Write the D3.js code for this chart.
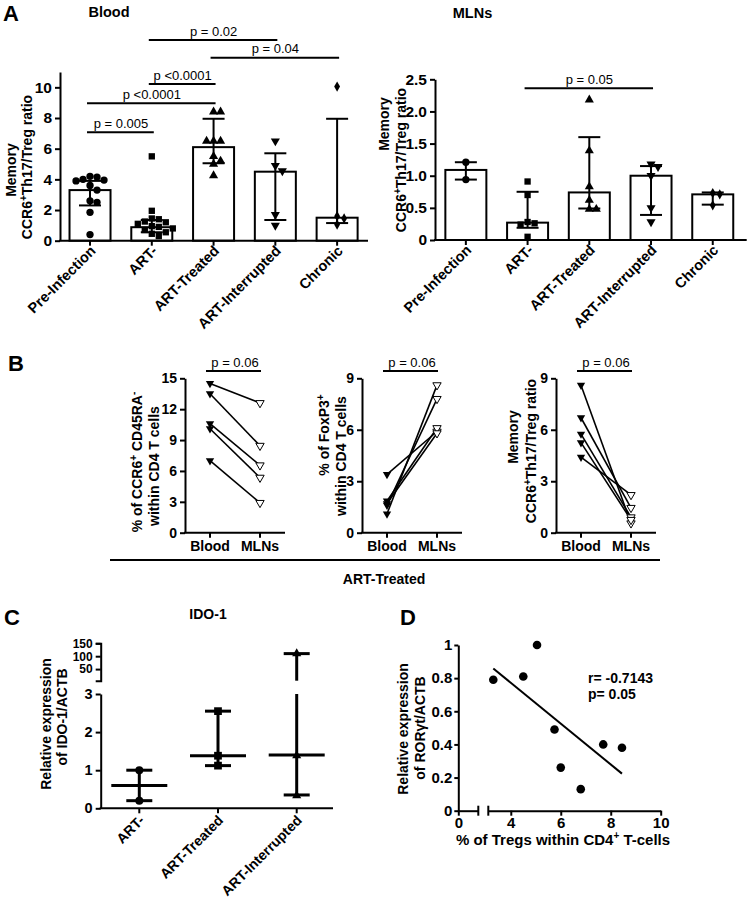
<!DOCTYPE html>
<html><head><meta charset="utf-8">
<script src="https://cdn.jsdelivr.net/npm/d3@7"></script>
<style>
body{margin:0;background:#fff}
svg{display:block}
text{font-family:"Liberation Sans",Arial,Helvetica,sans-serif;fill:#000}
</style>
</head><body>
<svg id="fig" width="750" height="897"></svg>
<script>
// ================= DATA =================
// Panel A
const groupsA = ["Pre-Infection", "ART-", "ART-Treated", "ART-Interrupted", "Chronic"];
const bloodTicks = [0, 2, 4, 6, 8, 10];
const bloodBar  = [3.3, 0.88, 6.1, 4.5, 1.5];
const bloodLow  = [2.3, 0.55, 5.05, 1.35, 1.15];
const bloodHigh = [3.9, 1.35, 7.95, 5.7, 7.95];
const bloodPre = [4.2, 4.15, 4.0, 3.95, 3.9, 3.6, 3.3, 2.6, 2.5, 1.85, 0.4];
const bloodARTneg = [5.5, 1.95, 1.45, 1.4, 1.25, 1.2, 1.1, 0.95, 0.9, 0.8, 0.7, 0.55, 0.45, 0.3];
const bloodTreated = [8.4, 8.4, 6.5, 6.5, 6.5, 5.5, 5.2, 5.0, 4.25];
const bloodInterrupted = [6.5, 4.9, 4.55, 1.7, 1.0];
const bloodChronic = [10.05, 1.6, 1.45, 1.05];
const bloodSigPairs = [[0, 1], [0, 2], [1, 2], [1, 3], [2, 4]];
const bloodSigLabels = ["p = 0.005", "p <0.0001", "p <0.0001", "p = 0.02", "p = 0.04"];

const mlnTicks = [0, 0.5, 1.0, 1.5, 2.0, 2.5];
const mlnBar  = [1.09, 0.27, 0.74, 1.0, 0.71];
const mlnLow  = [0.94, 0.19, 0.49, 0.39, 0.55];
const mlnHigh = [1.21, 0.75, 1.6, 1.15, 0.74];
const mlnPre = [1.21, 0.94];
const mlnARTneg = [0.91, 0.70, 0.28, 0.26, 0.24, 0.05];
const mlnTreated = [2.18, 1.39, 0.83, 0.62, 0.48, 0.48];
const mlnInterrupted = [1.18, 1.14, 1.0, 0.5, 0.28];
const mlnChronic = [0.73, 0.71, 0.54];
const mlnSigPairs = [[1, 3]];
const mlnSigLabels = ["p = 0.05"];

// Panel B (ART-Treated, paired Blood vs MLNs)
const pairedCats = ["Blood", "MLNs"];
const ccr6Ticks = [0, 3, 6, 9, 12, 15];
const ccr6Blood = [14.5, 13.5, 10.6, 10.1, 7.0];
const ccr6MLN   = [12.6, 8.45, 6.55, 5.35, 2.9];
const foxTicks = [0, 3, 6, 9];
const foxBlood = [3.4, 1.85, 1.7, 1.6, 1.1];
const foxMLN   = [5.9, 6.1, 5.8, 7.8, 8.6];
const ratioTicks = [0, 3, 6, 9];
const ratioBlood = [8.6, 6.7, 5.75, 5.25, 4.4];
const ratioMLN   = [0.55, 1.45, 0.9, 0.75, 2.2];
const pairedP = ["p = 0.06", "p = 0.06", "p = 0.06"];

// Panel C (IDO-1)
const groupsC = ["ART-", "ART-Treated", "ART-Interrupted"];
const idoTicksLow = [0, 1, 2, 3];
const idoTicksHigh = [50, 100, 150];
const idoPoints = [[1.0, 0.2], [2.55, 1.38, 1.12], [110, 1.38, 0.33]];
const idoMedian = [0.6, 1.38, 1.4];
const idoLow  = [0.2, 1.12, 0.35];
const idoHigh = [1.0, 2.55, 110];

// Panel D (correlation)
const tregPct = [3.3, 4.5, 5.05, 5.75, 6.0, 6.8, 7.7, 8.45];
const rorgt   = [0.79, 0.81, 1.0, 0.49, 0.26, 0.13, 0.40, 0.38];
const dTicksY = [0, 0.2, 0.4, 0.6, 0.8, 1];
const dTicksX = [4, 6, 8, 10];
const corrText = ["r= -0.7143", "p= 0.05"];

// ================= HELPERS =================
const FONT = '"Liberation Sans", Arial, Helvetica, sans-serif';
const svg = d3.select("#fig");
svg.append("rect").attr("width", 750).attr("height", 897).attr("fill", "#fff");

function rich(t, str, fs) {
  const parts = str.split(/(\^.)/).filter(s => s);
  let shifted = false;
  const up = Math.round(fs * 0.38);
  parts.forEach(p => {
    if (p[0] === "^") {
      t.append("tspan").attr("dy", -up).attr("font-size", Math.round(fs * 0.68)).text(p[1]);
      shifted = true;
    } else {
      const ts = t.append("tspan").text(p);
      if (shifted) { ts.attr("dy", up); shifted = false; }
    }
  });
  return t;
}
function label(x, y, str, opts = {}) {
  const fs = opts.size || 14;
  const t = svg.append("text")
    .attr("transform", `translate(${x},${y}) rotate(${opts.rot || 0})`)
    .attr("text-anchor", opts.anchor || "middle")
    .attr("font-size", fs)
    .attr("font-weight", opts.weight || "bold");
  return rich(t, str, fs);
}
function styleAxis(g, fs) {
  g.attr("font-family", FONT).attr("font-size", fs).attr("font-weight", "bold");
  g.select(".domain").attr("stroke", "#000").attr("stroke-width", 2);
  g.selectAll(".tick line").attr("stroke", "#000").attr("stroke-width", 2);
  g.selectAll(".tick text").attr("fill", "#000");
  return g;
}
const symTypes = [d3.symbolCircle, d3.symbolSquare, d3.symbolTriangle, d3.symbolTriangle, d3.symbolDiamond];
const symRot = [0, 0, 0, 180, 0];
const symSize = [42, 40, 36, 36, 30];

function swarm(vals, yScale, cx, d) {
  const placed = [];
  return vals.map(v => {
    const y = yScale(v);
    let chosen = cx;
    for (let k = 0; k < 12; k++) {
      const off = k === 0 ? 0 : (k % 2 ? 1 : -1) * Math.ceil(k / 2) * d;
      const x = cx + off;
      if (!placed.some(p => Math.hypot(p[0] - x, p[1] - y) < d)) { chosen = x; break; }
    }
    placed.push([chosen, y]);
    return [chosen, y];
  });
}

// ================= PANEL A =================
function barPanel(cfg) {
  const { x, y, bars, lows, highs, points, ticks, fmt, xLeft, xRight } = cfg;
  const y0 = y(0);
  bars.forEach((v, i) => {
    svg.append("rect").attr("x", x(i) - 20.5).attr("y", y(v))
      .attr("width", 41).attr("height", y0 - y(v))
      .attr("fill", "#fff").attr("stroke", "#000").attr("stroke-width", 2);
  });
  bars.forEach((v, i) => {
    const g = svg.append("g").attr("stroke", "#000").attr("stroke-width", 2);
    g.append("line").attr("x1", x(i)).attr("x2", x(i)).attr("y1", y(lows[i])).attr("y2", y(highs[i]));
    [lows[i], highs[i]].forEach(e => g.append("line")
      .attr("x1", x(i) - 11).attr("x2", x(i) + 11).attr("y1", y(e)).attr("y2", y(e)));
  });
  points.forEach((vals, i) => {
    const sym = d3.symbol().type(symTypes[i]).size(symSize[i]);
    swarm(vals, y, x(i), 7).forEach(([px, py]) => {
      svg.append("path").attr("d", sym())
        .attr("transform", `translate(${px},${py}) rotate(${symRot[i]})`).attr("fill", "#000");
    });
  });
  const ga = svg.append("g").attr("transform", `translate(${xLeft},0)`)
    .call(d3.axisLeft(y).tickValues(ticks).tickFormat(fmt).tickSize(5).tickSizeOuter(0).tickPadding(3));
  styleAxis(ga, 15.5);
  const gx = svg.append("g").attr("stroke", "#000").attr("stroke-width", 2);
  gx.append("line").attr("x1", xLeft - 1).attr("x2", xRight).attr("y1", y0).attr("y2", y0);
  groupsA.forEach((g, i) => {
    gx.append("line").attr("x1", x(i)).attr("x2", x(i)).attr("y1", y0).attr("y2", y0 + 5);
    label(x(i) + 6.5, y0 + 11, g, { rot: -45, anchor: "end", size: 14.5 });
  });
}

const xBlood = d3.scaleLinear().domain([-0.486, 4.5]).range([60, 368]);
const yBlood = d3.scaleLinear().domain([0, 11]).range([240.7, 72]);
barPanel({ x: xBlood, y: yBlood, bars: bloodBar, lows: bloodLow, highs: bloodHigh,
  points: [bloodPre, bloodARTneg, bloodTreated, bloodInterrupted, bloodChronic],
  ticks: bloodTicks, fmt: d3.format("d"), xLeft: 60, xRight: 368 });

const xMln = d3.scaleLinear().domain([-0.5, 4.55]).range([435, 746.7]);
const yMln = d3.scaleLinear().domain([0, 2.5]).range([240, 79.3]);
barPanel({ x: xMln, y: yMln, bars: mlnBar, lows: mlnLow, highs: mlnHigh,
  points: [mlnPre, mlnARTneg, mlnTreated, mlnInterrupted, mlnChronic],
  ticks: mlnTicks, fmt: d => d === 0 ? "0" : d3.format(".1f")(d), xLeft: 435, xRight: 746.7 });

function sigBars(x, pairs, labels, levels) {
  pairs.forEach((p, k) => {
    const ly = levels[k];
    svg.append("line").attr("x1", x(p[0]) - 3).attr("x2", x(p[1]) + 2)
      .attr("y1", ly).attr("y2", ly).attr("stroke", "#000").attr("stroke-width", 2);
    label((x(p[0]) + x(p[1])) / 2, ly - 4.5, labels[k], { size: 13, weight: "normal" });
  });
}
sigBars(xBlood, bloodSigPairs, bloodSigLabels, [132.3, 103.3, 84, 40, 57.7]);
sigBars(xMln, mlnSigPairs, mlnSigLabels, [88.3]);

label(3, 21, "A", { anchor: "start", size: 22 });
label(109, 17, "Blood", { size: 14.5 });
label(472.5, 18, "MLNs", { size: 14.5 });
label(16, 170, "Memory", { rot: -90, size: 14 });
label(32, 167, "CCR6^+Th17/Treg ratio", { rot: -90, size: 14 });
label(389, 124, "Memory", { rot: -90, size: 14 });
label(406, 160, "CCR6^+Th17/Treg ratio", { rot: -90, size: 14 });

// ================= PANEL B =================
label(8, 371, "B", { anchor: "start", size: 22 });
const yTopB = 378.3, y0B = 532.7;
const subs = [
  { ax: 185, ticks: ccr6Ticks, blood: ccr6Blood, mln: ccr6MLN,
    labels: [["% of CCR6^+ CD45RA^-", 142, 462], ["within CD4 T cells", 159, 466]] },
  { ax: 362, ticks: foxTicks, blood: foxBlood, mln: foxMLN,
    labels: [["% of FoxP3^+", 329, 435], ["within CD4 T cells", 346, 456]] },
  { ax: 556, ticks: ratioTicks, blood: ratioBlood, mln: ratioMLN,
    labels: [["Memory", 518, 437], ["CCR6^+Th17/Treg ratio", 536, 451]] }
];
subs.forEach((s, si) => {
  const y = d3.scaleLinear().domain([0, d3.max(s.ticks)]).range([y0B, yTopB]);
  const x = d3.scalePoint().domain(pairedCats).range([s.ax + 25, s.ax + 75]);
  const ga = svg.append("g").attr("transform", `translate(${s.ax},0)`)
    .call(d3.axisLeft(y).tickValues(s.ticks).tickSize(5).tickSizeOuter(0).tickPadding(3));
  styleAxis(ga, 14);
  const gx = svg.append("g").attr("stroke", "#000").attr("stroke-width", 2);
  gx.append("line").attr("x1", s.ax - 1).attr("x2", s.ax + 100).attr("y1", y0B).attr("y2", y0B);
  pairedCats.forEach(c => {
    gx.append("line").attr("x1", x(c)).attr("x2", x(c)).attr("y1", y0B).attr("y2", y0B + 5);
    label(x(c), y0B + 18, c, { size: 14 });
  });
  s.blood.forEach((b, i) => {
    svg.append("line").attr("x1", x("Blood")).attr("y1", y(b))
      .attr("x2", x("MLNs")).attr("y2", y(s.mln[i]))
      .attr("stroke", "#000").attr("stroke-width", 1.6);
  });
  const tri = d3.symbol().type(d3.symbolTriangle).size(30);
  s.blood.forEach(b => svg.append("path").attr("d", tri())
    .attr("transform", `translate(${x("Blood")},${y(b)}) rotate(180)`).attr("fill", "#000"));
  s.mln.forEach(m => svg.append("path").attr("d", tri())
    .attr("transform", `translate(${x("MLNs")},${y(m)}) rotate(180)`)
    .attr("fill", "#fff").attr("stroke", "#000").attr("stroke-width", 1));
  svg.append("line").attr("x1", x("Blood") - 4).attr("x2", x("MLNs") + 1).attr("y1", 371).attr("y2", 371)
    .attr("stroke", "#000").attr("stroke-width", 2);
  label((x("Blood") + x("MLNs")) / 2, 366.5, pairedP[si], { size: 13, weight: "normal" });
  s.labels.forEach(([txt, lx, ly]) => label(lx, ly, txt, { rot: -90, size: 14 }));
});
svg.append("line").attr("x1", 110).attr("x2", 660).attr("y1", 560).attr("y2", 560)
  .attr("stroke", "#000").attr("stroke-width", 2);
label(384, 584, "ART-Treated", { size: 14 });

// ================= PANEL C =================
label(4, 625, "C", { anchor: "start", size: 22 });
label(208, 619, "IDO-1", { size: 14 });
const yCb = d3.scaleLinear().domain([0, 3]).range([808.3, 694]);
const yCt = d3.scaleLinear().domain([5, 150]).range([680.7, 643.3]);
const yC = v => v <= 3 ? yCb(v) : yCt(v);
const xC = d3.scaleLinear().domain([0, 2]).range([139.3, 296.7]);
const axC = 100.7;
styleAxis(svg.append("g").attr("transform", `translate(${axC},0)`)
  .call(d3.axisLeft(yCb).tickValues(idoTicksLow).tickFormat(d3.format("d")).tickSize(5).tickSizeOuter(0).tickPadding(3)), 14.5);
styleAxis(svg.append("g").attr("transform", `translate(${axC},0)`)
  .call(d3.axisLeft(yCt).tickValues(idoTicksHigh).tickFormat(d3.format("d")).tickSize(5).tickSizeOuter(5).tickPadding(3)), 12);
{
  const gx = svg.append("g").attr("stroke", "#000").attr("stroke-width", 2);
  gx.append("line").attr("x1", axC - 1).attr("x2", 333).attr("y1", yCb(0)).attr("y2", yCb(0));
  groupsC.forEach((g, i) => {
    gx.append("line").attr("x1", xC(i)).attr("x2", xC(i)).attr("y1", yCb(0)).attr("y2", yCb(0) + 5);
    label(xC(i) + 6, yCb(0) + 13, g, { rot: -45, anchor: "end", size: 14 });
  });
}
const cSym = [d3.symbolCircle, d3.symbolSquare, d3.symbolTriangle];
const cSize = [50, 60, 36];
groupsC.forEach((g, i) => {
  const gl = svg.append("g").attr("stroke", "#000").attr("stroke-width", 3);
  const cx = xC(i);
  if (idoHigh[i] <= 3) {
    gl.append("line").attr("x1", cx).attr("x2", cx).attr("y1", yC(idoLow[i])).attr("y2", yC(idoHigh[i]));
  } else {
    gl.append("line").attr("x1", cx).attr("x2", cx).attr("y1", yC(idoLow[i])).attr("y2", yCb(3));
    gl.append("line").attr("x1", cx).attr("x2", cx).attr("y1", yCt(5)).attr("y2", yC(idoHigh[i]));
  }
  [idoLow[i], idoHigh[i]].forEach(e => gl.append("line")
    .attr("x1", cx - 13).attr("x2", cx + 13).attr("y1", yC(e)).attr("y2", yC(e)));
  gl.append("line").attr("x1", cx - 28).attr("x2", cx + 28)
    .attr("y1", yC(idoMedian[i])).attr("y2", yC(idoMedian[i]));
  const sym = d3.symbol().type(cSym[i]).size(cSize[i]);
  idoPoints[i].forEach(v => svg.append("path").attr("d", sym())
    .attr("transform", `translate(${cx},${yC(v)})`).attr("fill", "#000"));
});
label(51, 724, "Relative expression", { rot: -90, size: 14 });
label(67, 717, "of IDO-1/ACTB", { rot: -90, size: 14 });

// ================= PANEL D =================
label(400, 625, "D", { anchor: "start", size: 22 });
const yD = d3.scaleLinear().domain([0, 1]).range([810.7, 645]);
const xD1 = d3.scaleLinear().domain([0, 0.8]).range([458.3, 478.3]);
const xD2 = d3.scaleLinear().domain([3.1, 10]).range([488.3, 660.7]);
styleAxis(svg.append("g").attr("transform", "translate(458.3,0)")
  .call(d3.axisLeft(yD).tickValues(dTicksY).tickFormat(d => d === 0 ? "0" : d === 1 ? "1" : d.toFixed(1))
    .tickSize(4).tickSizeOuter(0).tickPadding(2)), 15);
styleAxis(svg.append("g").attr("transform", `translate(0,${yD(0)})`)
  .call(d3.axisBottom(xD1).tickValues([0]).tickFormat(d3.format("d")).tickSize(5).tickSizeOuter(0).tickPadding(2)), 15);
styleAxis(svg.append("g").attr("transform", `translate(0,${yD(0)})`)
  .call(d3.axisBottom(xD2).tickValues(dTicksX).tickFormat(d3.format("d")).tickSize(5).tickSizeOuter(0).tickPadding(2)), 15);
[xD1.range()[1], xD2.range()[0]].forEach(bx => svg.append("line")
  .attr("x1", bx).attr("x2", bx).attr("y1", yD(0) - 5).attr("y2", yD(0) + 5)
  .attr("stroke", "#000").attr("stroke-width", 2));
{
  const mx = d3.mean(tregPct), my = d3.mean(rorgt);
  const sxy = d3.sum(tregPct, (v, i) => (v - mx) * (rorgt[i] - my));
  const sxx = d3.sum(tregPct, v => (v - mx) ** 2);
  const b = sxy / sxx, a = my - b * mx;
  const [x1, x2] = d3.extent(tregPct);
  svg.append("line").attr("x1", xD2(x1)).attr("y1", yD(a + b * x1))
    .attr("x2", xD2(x2)).attr("y2", yD(a + b * x2)).attr("stroke", "#000").attr("stroke-width", 2);
}
tregPct.forEach((v, i) => svg.append("circle").attr("cx", xD2(v)).attr("cy", yD(rorgt[i]))
  .attr("r", 4.3).attr("fill", "#000"));
label(588, 683, corrText[0], { anchor: "start", size: 14 });
label(588, 698.5, corrText[1], { anchor: "start", size: 14 });
label(408, 729, "Relative expression", { rot: -90, size: 14 });
label(425, 728, "of ROR\u03B3t/ACTB", { rot: -90, size: 14 });
label(563, 845, "% of Tregs within CD4^+ T-cells", { size: 15 });
</script>
</body></html>
